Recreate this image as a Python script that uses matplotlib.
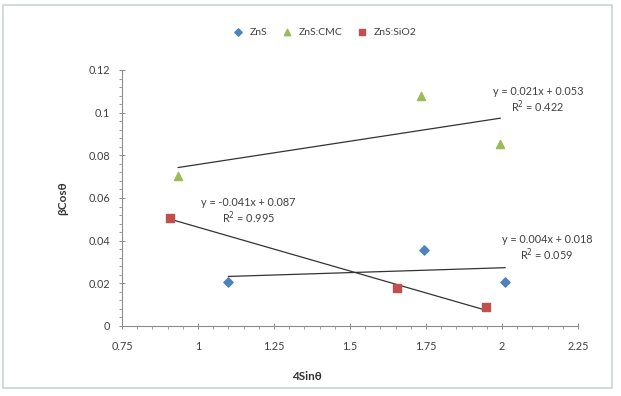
import matplotlib
matplotlib.use("Agg")
import matplotlib.pyplot as plt
import numpy as np
from matplotlib.patches import Rectangle
from matplotlib.ticker import MultipleLocator, FuncFormatter

plt.rcParams['font.family'] = ['Lato', 'DejaVu Sans']

# data
zns_x = [1.10, 1.745, 2.01]
zns_y = [0.0205, 0.0355, 0.0207]
cmc_x = [0.935, 1.733, 1.994]
cmc_y = [0.0703, 0.1079, 0.0852]
sio2_x = [0.908, 1.655, 1.947]
sio2_y = [0.0506, 0.0176, 0.0087]

series_names = ["ZnS", "ZnS:CMC", "ZnS:SiO2"]
fit_labels = ["y = 0.004x + 0.018\nR$^2$ = 0.059",
              "y = 0.021x + 0.053\nR$^2$ = 0.422",
              "y = -0.041x + 0.087\nR$^2$ = 0.995"]

fig = plt.figure(figsize=(6.21, 3.96), dpi=100)
ax = fig.add_axes([122 / 621, 1 - 326 / 396, 456 / 621, 256 / 396])

# kantlinje rundt diagrammet
fig.patches.append(Rectangle((3 / 621, 1 - 388 / 396), 609 / 621, 383 / 396,
                             transform=fig.transFigure, fill=False,
                             edgecolor="#c9d6d6", linewidth=1.2))

ax.scatter(zns_x, zns_y, marker="D", s=22, color="#4F81BD", label=series_names[0], zorder=3)
ax.scatter(cmc_x, cmc_y, marker="^", s=34, color="#9BBB59", label=series_names[1], zorder=3)
ax.scatter(sio2_x, sio2_y, marker="s", s=34, color="#C0504D", label=series_names[2], zorder=3)

# lineære trendlinjer
for xs, ys in [(zns_x, zns_y), (cmc_x, cmc_y), (sio2_x, sio2_y)]:
    k, m = np.polyfit(xs, ys, 1)
    xl = np.array([min(xs), max(xs)])
    ax.plot(xl, k * xl + m, color="#333333", linewidth=0.9, zorder=2)

tekst = dict(ha="center", va="center", fontsize=7.8, color="#404040", linespacing=1.1)
ax.text(2.148, 0.0363, fit_labels[0], **tekst)
ax.text(2.118, 0.1055, fit_labels[1], **tekst)
ax.text(1.166, 0.0538, fit_labels[2], **tekst)

ax.set_xlim(0.75, 2.25)
ax.set_ylim(0, 0.12)
ax.xaxis.set_major_locator(MultipleLocator(0.25))
ax.xaxis.set_minor_locator(MultipleLocator(0.05))
ax.yaxis.set_major_locator(MultipleLocator(0.02))
ax.yaxis.set_minor_locator(MultipleLocator(0.004))
ax.xaxis.set_major_formatter(FuncFormatter(lambda v, p: f"{v:g}"))
ax.yaxis.set_major_formatter(FuncFormatter(lambda v, p: f"{v:g}"))

for side in ["top", "right"]:
    ax.spines[side].set_visible(False)
for side in ["left", "bottom"]:
    ax.spines[side].set_color("#8c8c8c")
    ax.spines[side].set_linewidth(0.8)

ax.tick_params(which="major", direction="inout", length=5, width=0.7,
               color="#8c8c8c", labelsize=7.8, labelcolor="#404040")
ax.tick_params(which="minor", direction="out", length=2.5, width=0.6, color="#8c8c8c")
ax.tick_params(axis="x", pad=8)
ax.tick_params(axis="y", pad=6)

ax.set_xlabel("4Sinθ", fontsize=8.5, fontweight="bold", color="#333333")
ax.set_ylabel("βCosθ", fontsize=8.5, fontweight="bold", color="#333333")
ax.xaxis.set_label_coords((307 - 122) / 456, -(377 - 326) / 256)
ax.yaxis.set_label_coords(-(122 - 63) / 456, (326 - 198) / 256)
ax.xaxis.label.set_va("center")
ax.yaxis.label.set_va("center")

fig.legend(loc="center", bbox_to_anchor=(322 / 621, 1 - 32 / 396), ncol=3,
           frameon=False, fontsize=7.5, handletextpad=0.1, columnspacing=0.9,
           labelcolor="#404040", markerscale=0.8)

fig.savefig("out.png", dpi=100)
